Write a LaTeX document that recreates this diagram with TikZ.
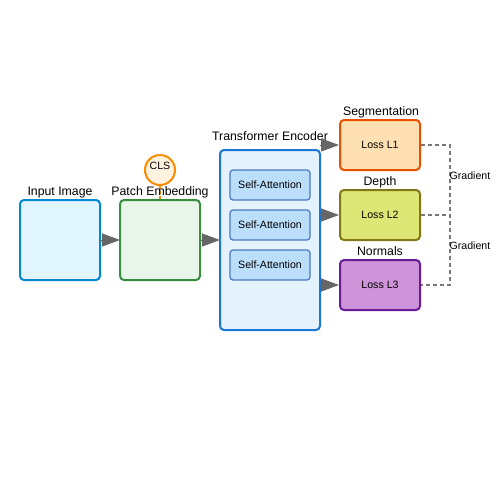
\documentclass[tikz,border=0pt]{standalone}
\usepackage{fontspec}
\setmainfont{Liberation Sans}
\usetikzlibrary{arrows.meta}
\definecolor{inFill}{HTML}{E1F5FE}\definecolor{inDraw}{HTML}{0288D1}
\definecolor{peFill}{HTML}{E8F5E9}\definecolor{peDraw}{HTML}{388E3C}
\definecolor{clsFill}{HTML}{FFF3E0}\definecolor{clsDraw}{HTML}{FB8C00}
\definecolor{teFill}{HTML}{E3F2FD}\definecolor{teDraw}{HTML}{1976D2}
\definecolor{saFill}{HTML}{BBDEFB}\definecolor{saDraw}{HTML}{4A78C0}
\definecolor{sgFill}{HTML}{FFE0B2}\definecolor{sgDraw}{HTML}{E65100}
\definecolor{dpFill}{HTML}{DCE775}\definecolor{dpDraw}{HTML}{827717}
\definecolor{nmFill}{HTML}{CE93D8}\definecolor{nmDraw}{HTML}{6A1B9A}
\definecolor{arr}{HTML}{666666}
\definecolor{grad}{HTML}{777777}
\tikzset{
  box/.style={rounded corners=4pt, line width=2pt, inner sep=0pt},
  lbl/.style={font=\fontsize{12.3}{14}\selectfont, inner sep=0pt, text depth=0pt},
  small/.style={font=\fontsize{10.6}{12}\selectfont, inner sep=0pt, text depth=0pt},
  flow/.style={draw=arr, line width=1pt, -{Triangle[length=18pt,width=13pt]}, fill=arr},
  gradline/.style={draw=grad, line width=1.5pt, dash pattern=on 4pt off 3pt},
}
\begin{document}
\begin{tikzpicture}[x=1pt,y=-1pt]
\useasboundingbox (0,0) rectangle (500,500);
% boxes
\draw[box, fill=inFill, draw=inDraw] (20,200) rectangle (100,280);
\node[lbl] (inlbl) at (60,191) {Input Image};
\coordinate (inR) at (100,240);
\draw[box, fill=peFill, draw=peDraw] (120,200) rectangle (200,280);
\coordinate (peL) at (120,240);
\coordinate (peR) at (200,240);
\coordinate (peT) at (160,200);
\node[circle, draw=clsDraw, fill=clsFill, line width=2pt, minimum size=30pt, inner sep=0pt] (cls) at (160,170) {};
\node[small] at (160,166) {CLS};
\draw[draw=clsDraw, line width=1.5pt, dash pattern=on 3pt off 2pt] (cls.south) -- (peT);
\node[lbl] (pelbl) at (160,191) {Patch Embedding};
\draw[box, fill=teFill, draw=teDraw] (220,150) rectangle (320,330);
\node[lbl] (telbl) at (270,136) {Transformer Encoder};
\coordinate (teL) at (220,240);
\foreach \y/\n in {185/sa1,225/sa2,265/sa3}{
  \node[draw=saDraw, fill=saFill, rounded corners=3pt, line width=1.2pt, minimum width=80pt, minimum height=30pt, inner sep=0pt, small] (\n) at (270,\y) {Self-Attention};
}
% heads
\node[box, draw=sgDraw, fill=sgFill, minimum width=80pt, minimum height=50pt, small] (seg) at (380,145) {Loss L1};
\node[box, draw=dpDraw, fill=dpFill, minimum width=80pt, minimum height=50pt, small] (dep) at (380,215) {Loss L2};
\node[box, draw=nmDraw, fill=nmFill, minimum width=80pt, minimum height=50pt, small] (nor) at (380,285) {Loss L3};
\node[lbl] at (381,111) {Segmentation};
\node[lbl] at (380,181) {Depth};
\node[lbl] at (380,251) {Normals};
\coordinate (o1) at (320,145);
\coordinate (o2) at (320,215);
\coordinate (o3) at (320,285);
% arrows
\draw[flow] (inR) -- (peL);
\draw[flow] (peR) -- (teL);
\draw[flow] (o1) -- (seg.west);
\draw[flow] (o2) -- (dep.west);
\draw[flow] (o3) -- (nor.west);
% gradients
\coordinate (g1) at (450,145);
\coordinate (g2) at (450,215);
\coordinate (g3) at (450,285);
\draw[gradline] (seg.east) -- (g1) -- (g3) -- (nor.east);
\draw[gradline] (dep.east) -- (g2);
\node[small] at (470,176) {Gradient};
\node[small] at (470,246) {Gradient};
\end{tikzpicture}
\end{document}
